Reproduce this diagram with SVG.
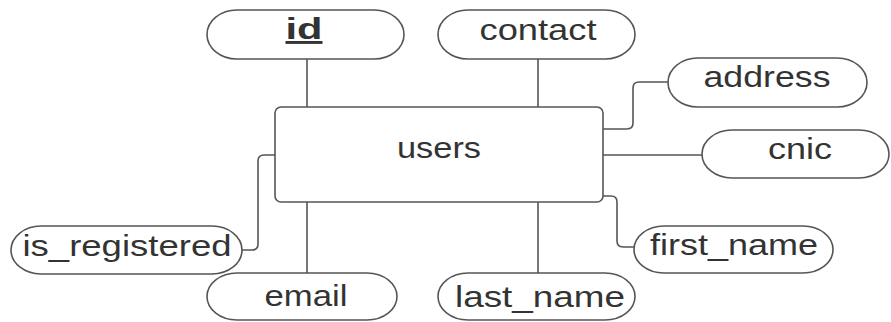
<svg xmlns="http://www.w3.org/2000/svg" width="891" height="322" viewBox="0 0 891 322">
  <style>
    .attr { fill: #ffffff; stroke: #555555; stroke-width: 1.6; }
    .entity { fill: #ffffff; stroke: #555555; stroke-width: 1.6; }
    .lbl { font-family: "Liberation Sans", Arial, sans-serif; font-size: 29px; fill: #333333; text-anchor: middle; }
    .key { font-weight: bold; text-decoration: underline; }
    .conn { fill: none; stroke: #555555; stroke-width: 1.6; }
  </style>
  <rect width="891" height="322" fill="#ffffff"/>

  <!-- connectors between the entity and its attributes -->
  <g id="connectors">
    <path class="conn" d="M307 59 V107"/>
    <path class="conn" d="M538 59 V107"/>
    <path class="conn" d="M307 202 V273"/>
    <path class="conn" d="M538 202 V273"/>
    <path class="conn" d="M603 129 H627 Q633 129 633 123 V88 Q633 82 639 82 H668"/>
    <path class="conn" d="M603 155 H702"/>
    <path class="conn" d="M603 196 H611 Q617 196 617 202 V241 Q617 247 623 247 H634"/>
    <path class="conn" d="M242 250 H252 Q258 250 258 244 V161 Q258 155 264 155 H275"/>
  </g>

  <g id="users">
    <rect class="entity" x="275" y="107" width="328" height="95" rx="6" ry="6"/>
    <text class="lbl" x="439" y="158" textLength="84" lengthAdjust="spacingAndGlyphs">users</text>
  </g>

  <g id="attr-id">
    <rect class="attr" x="207" y="10" width="197" height="49" rx="30" ry="24.5"/>
    <text class="lbl key" x="304" y="39" textLength="37" lengthAdjust="spacingAndGlyphs">id</text>
  </g>

  <g id="attr-contact">
    <rect class="attr" x="438" y="10" width="197" height="49" rx="30" ry="24.5"/>
    <text class="lbl" x="538" y="40" textLength="117" lengthAdjust="spacingAndGlyphs">contact</text>
  </g>

  <g id="attr-address">
    <rect class="attr" x="668" y="58" width="199" height="49" rx="30" ry="24.5"/>
    <text class="lbl" x="767" y="87" textLength="127" lengthAdjust="spacingAndGlyphs">address</text>
  </g>

  <g id="attr-cnic">
    <rect class="attr" x="702" y="130" width="187" height="48" rx="30" ry="24"/>
    <text class="lbl" x="800" y="159" textLength="64" lengthAdjust="spacingAndGlyphs">cnic</text>
  </g>

  <g id="attr-first_name">
    <rect class="attr" x="634" y="226" width="199" height="47" rx="30" ry="23.5"/>
    <text class="lbl" x="734" y="255" textLength="168" lengthAdjust="spacingAndGlyphs">first_name</text>
  </g>

  <g id="attr-is_registered">
    <rect class="attr" x="11" y="226" width="231" height="48" rx="30" ry="24"/>
    <text class="lbl" x="127" y="256" textLength="209" lengthAdjust="spacingAndGlyphs">is_registered</text>
  </g>

  <g id="attr-email">
    <rect class="attr" x="207" y="273" width="190" height="47" rx="30" ry="23.5"/>
    <text class="lbl" x="306" y="306" textLength="83" lengthAdjust="spacingAndGlyphs">email</text>
  </g>

  <g id="attr-last_name">
    <rect class="attr" x="438" y="273" width="197" height="47" rx="30" ry="23.5"/>
    <text class="lbl" x="540" y="307" textLength="170" lengthAdjust="spacingAndGlyphs">last_name</text>
  </g>
</svg>
